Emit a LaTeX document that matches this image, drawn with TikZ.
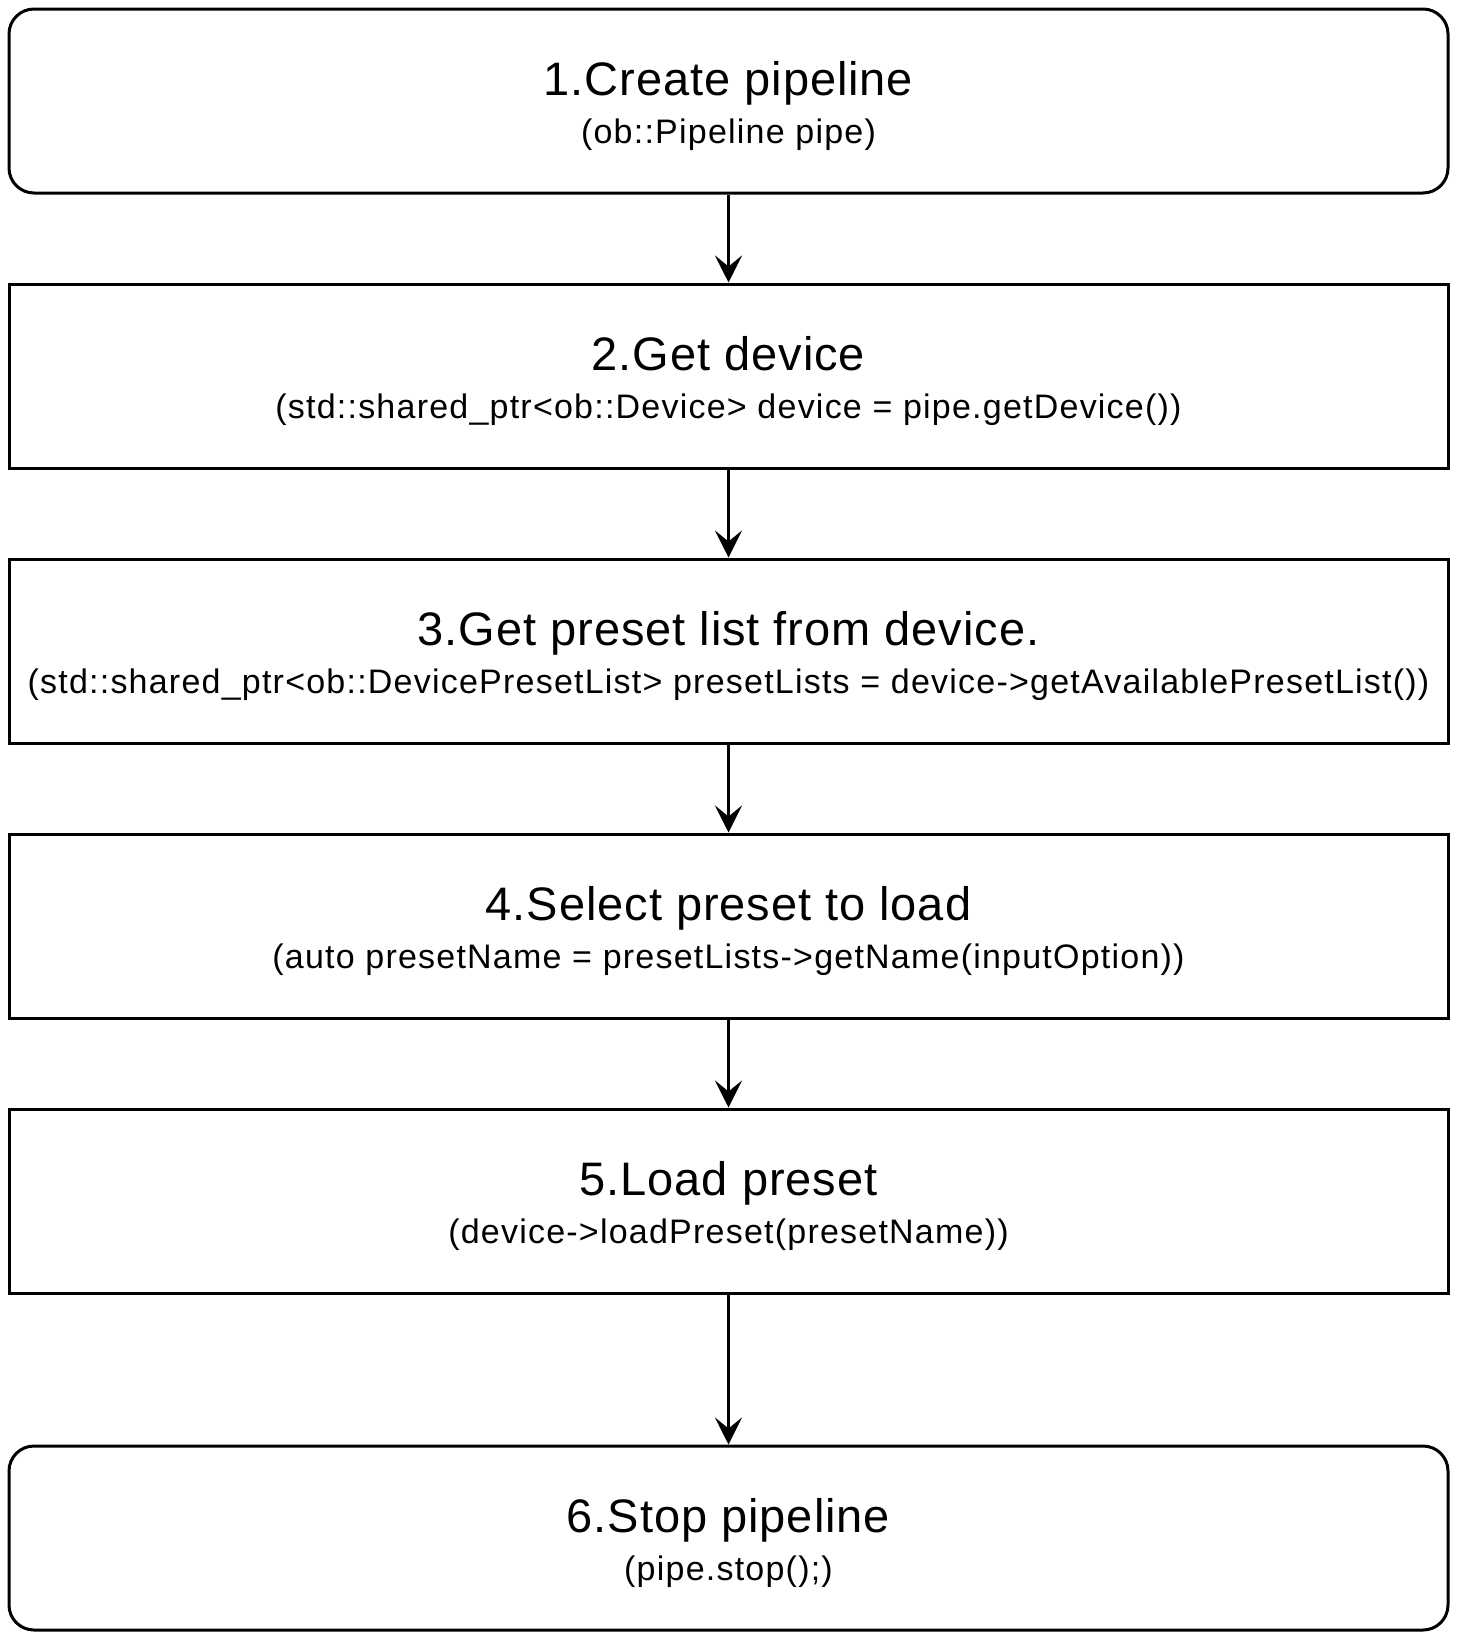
\documentclass[tikz,border=0pt]{standalone}
\usepackage{fontspec}
\setmainfont{Liberation Sans}[LetterSpace=3.6]
\usetikzlibrary{positioning, arrows.meta}

\newcommand{\steptitle}[1]{{\fontsize{47}{48}\selectfont\addfontfeatures{LetterSpace=2}\rule{0pt}{45pt}#1}}

\begin{document}
\begin{tikzpicture}
	% Define styles
	\tikzset{
		stepbox/.style={rectangle, draw, line width=3pt, minimum width=1439pt, minimum height=184pt, align=center, font=\fontsize{34}{48}\selectfont},
		endbox/.style={stepbox, rounded corners=25pt},
		line/.style={draw, line width=3pt, -{Stealth[length=27pt, width=27pt, inset=11pt]}},
		node distance=88pt
	}
	\useasboundingbox (0,0) rectangle (1461pt,-1641pt);
	
	% Nodes
	\node[endbox] (create) at (728.5pt,-101pt) {\steptitle{1.Create pipeline}\\(ob::Pipeline pipe)};
	\node[stepbox, below=of create] (device) {\steptitle{2.Get device}\\(std::shared\_ptr<ob::Device> device = pipe.getDevice())};
	\node[stepbox, below=of device] (presets) {\steptitle{3.Get preset list from device.}\\(std::shared\_ptr<ob::DevicePresetList> presetLists = device->getAvailablePresetList())};
	\node[stepbox, below=of presets] (select) {\steptitle{4.Select preset to load}\\(auto presetName = presetLists->getName(inputOption))};
	\node[stepbox, below=of select] (load) {\steptitle{5.Load preset}\\(device->loadPreset(presetName))};
	\node[endbox, below=150pt of load] (stop) {\steptitle{6.Stop pipeline}\\(pipe.stop();)};
	
	% Arrows
	\draw[line] (create) -- (device);
	\draw[line] (device) -- (presets);
	\draw[line] (presets) -- (select);
	\draw[line] (select) -- (load);
	\draw[line] (load) -- (stop);
	
\end{tikzpicture}
\end{document}
